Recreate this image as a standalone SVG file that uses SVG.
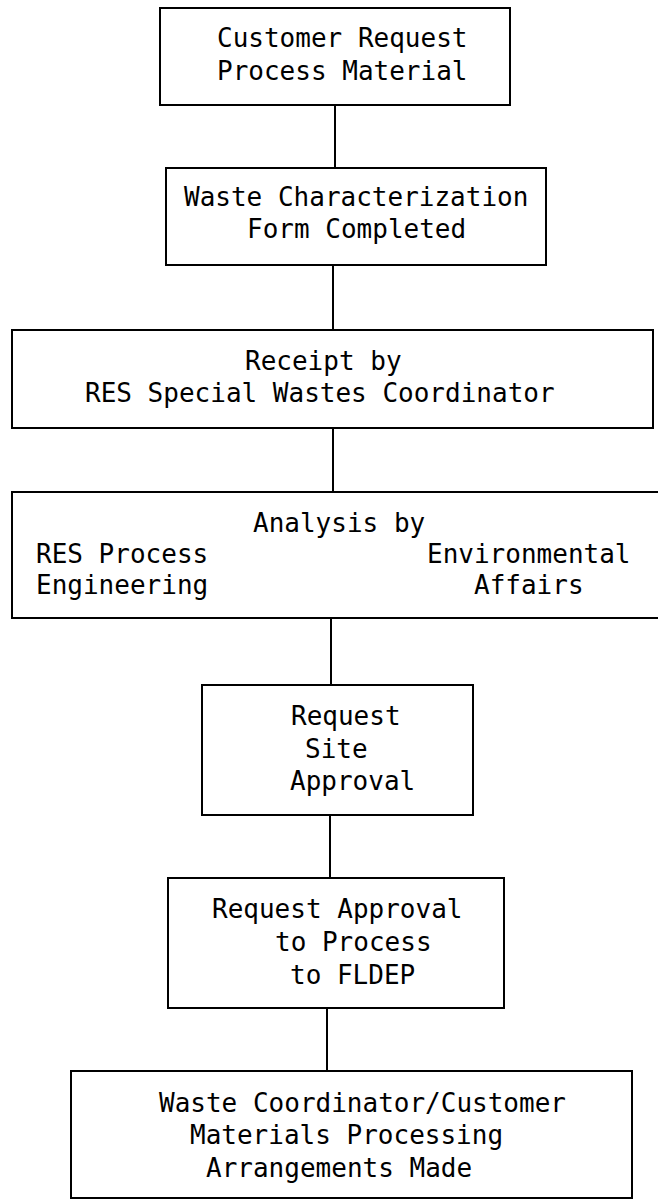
<svg xmlns="http://www.w3.org/2000/svg" width="658" height="1200" viewBox="0 0 658 1200">
<style>
.box{fill:none;stroke:#000;stroke-width:2}
.edge{stroke:#000;stroke-width:2;fill:none}
text{font-family:"DejaVu Sans Mono","Liberation Mono",monospace;font-size:26px;fill:#000}
</style>
<rect width="658" height="1200" fill="#fff"/>
<g id="connectors">
<line class="edge" x1="335" y1="105" x2="335" y2="168"/>
<line class="edge" x1="333" y1="265" x2="333" y2="330"/>
<line class="edge" x1="333" y1="428" x2="333" y2="492"/>
<line class="edge" x1="331" y1="618" x2="331" y2="685"/>
<line class="edge" x1="330" y1="815" x2="330" y2="878"/>
<line class="edge" x1="327" y1="1008" x2="327" y2="1071"/>
</g>
<g id="n1">
<rect class="box" x="160" y="8" width="350" height="97"/>
<text x="217" y="47">Customer Request</text>
<text x="217" y="80">Process Material</text>
</g>
<g id="n2">
<rect class="box" x="166" y="168" width="380" height="97"/>
<text x="184" y="206">Waste Characterization</text>
<text x="247" y="238">Form Completed</text>
</g>
<g id="n3">
<rect class="box" x="12" y="330" width="641" height="98"/>
<text x="245" y="370">Receipt by</text>
<text x="85" y="402">RES Special Wastes Coordinator</text>
</g>
<g id="n4">
<rect class="box" x="12" y="492" width="660" height="126"/>
<text x="253" y="532">Analysis by</text>
<text x="36" y="563">RES Process</text>
<text x="36" y="594">Engineering</text>
<text x="427" y="563">Environmental</text>
<text x="474" y="594">Affairs</text>
</g>
<g id="n5">
<rect class="box" x="202" y="685" width="271" height="130"/>
<text x="291" y="725">Request</text>
<text x="305" y="758">Site</text>
<text x="290" y="790">Approval</text>
</g>
<g id="n6">
<rect class="box" x="168" y="878" width="336" height="130"/>
<text x="212" y="918">Request Approval</text>
<text x="275" y="951">to Process</text>
<text x="290" y="984">to FLDEP</text>
</g>
<g id="n7">
<rect class="box" x="71" y="1071" width="561" height="127"/>
<text x="159" y="1112">Waste Coordinator/Customer</text>
<text x="190" y="1144">Materials Processing</text>
<text x="206" y="1177">Arrangements Made</text>
</g>
</svg>
